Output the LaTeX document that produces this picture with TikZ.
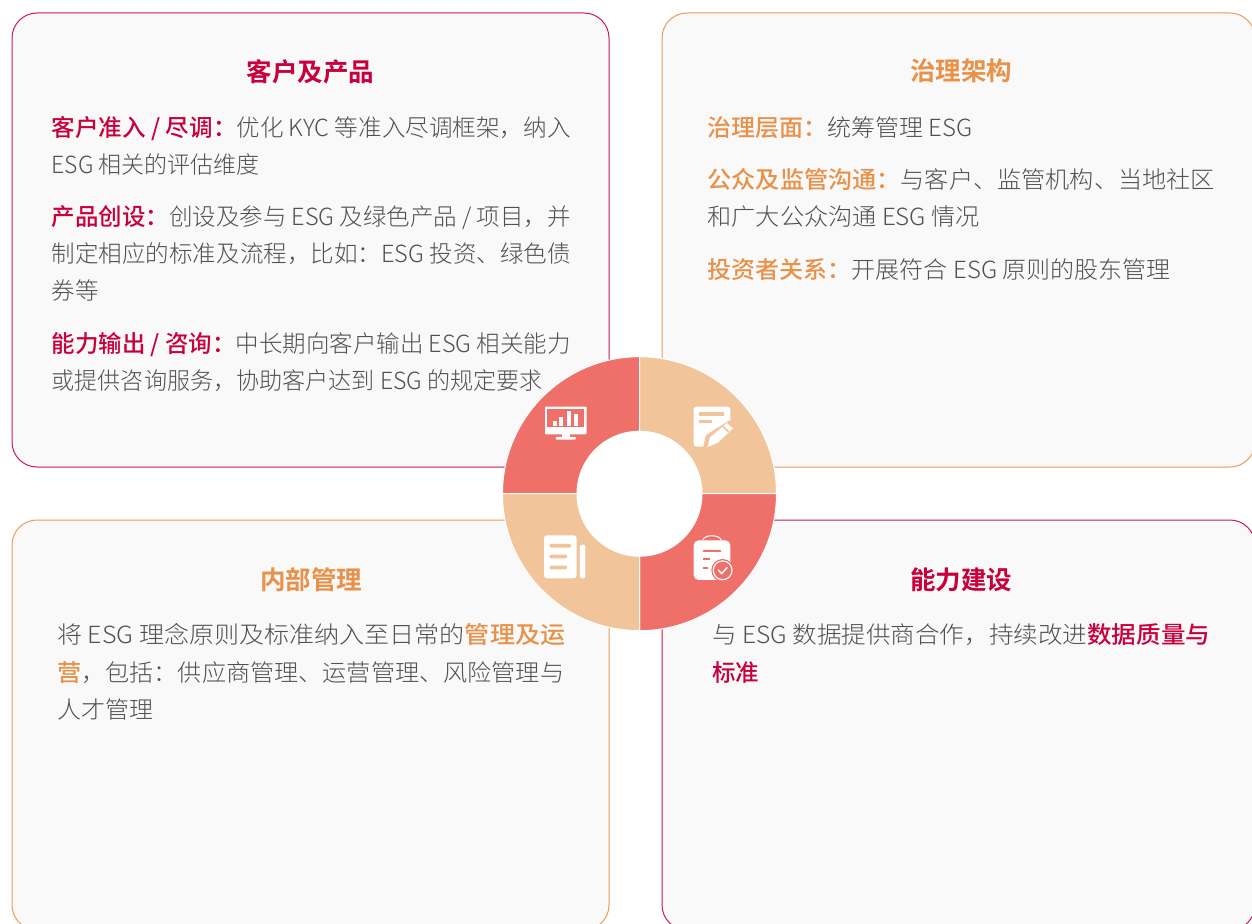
\documentclass[tikz,border=0pt]{standalone}
\usepackage{fontspec}
\usepackage{graphicx}
\setmainfont[BoldFont={Noto Sans CJK SC Medium}]{Noto Sans CJK SC Light}
\newfontfamily\titlefont{Noto Sans CJK SC Bold}
\definecolor{hred}{HTML}{C8003C}
\definecolor{horange}{HTML}{E79149}
\definecolor{bodygray}{HTML}{505050}
\definecolor{cardfill}{HTML}{F9F9F9}
\definecolor{segred}{HTML}{EE7068}
\definecolor{segtan}{HTML}{F1C499}
\newcommand{\hr}[1]{\textcolor{hred}{\bfseries #1}}
\newcommand{\ho}[1]{\textcolor{horange}{\bfseries #1}}
\newcommand{\fitw}[2]{\resizebox{#1pt}{\height}{#2}}
\tikzset{
  cardred/.style={draw=hred!90!white,fill=cardfill,line width=1pt,rounded corners=25pt},
  cardorange/.style={draw=horange!90!white,fill=cardfill,line width=1pt,rounded corners=25pt},
  titlered/.style={anchor=base,inner sep=0pt,text=hred,font=\fontsize{25.5}{26}\selectfont\titlefont},
  titleorange/.style={anchor=base,inner sep=0pt,text=horange,font=\fontsize{25.5}{26}\selectfont\titlefont},
  bodyline/.style={anchor=base west,inner sep=0pt,text=bodygray,font=\fontsize{23.6}{24}\selectfont},
  seg/.style={draw=white,line width=1pt},
  icon/.style={fill=white,draw=none},
}
\begin{document}
\begin{tikzpicture}[x=1pt,y=-1pt]
\useasboundingbox (0,0) rectangle (1252,923);
\fill[white] (0,0) rectangle (1252,923);
\begin{scope}
\clip (0,0) rectangle (1252,923);
\path[cardred] (12,13) rectangle (609,467);
\path[cardorange] (662,13) rectangle (1255,467);
\path[cardorange] (12,520) rectangle (609,930);
\path[cardred] (662,520) rectangle (1255,930);
\end{scope}

\node[titlered] (t1) at (310.5,81.5) {客户及产品};
\node[bodyline] (a1) at (51.5,136.5) {\fitw{519}{\hr{客户准入 / 尽调：}优化 KYC 等准入尽调框架，纳入}};
\node[bodyline] (a2) at (51.5,173.5) {\fitw{208}{ESG 相关的评估维度}};
\node[bodyline] (a3) at (51.5,225.5) {\fitw{519}{\hr{产品创设：}创设及参与 ESG 及绿色产品 / 项目，并}};
\node[bodyline] (a4) at (51.5,262.5) {\fitw{519}{制定相应的标准及流程，比如：ESG 投资、绿色债}};
\node[bodyline] (a5) at (51.5,299.5) {\fitw{47}{券等}};
\node[bodyline] (a6) at (51.5,352) {\fitw{519}{\hr{能力输出 / 咨询：}中长期向客户输出 ESG 相关能力}};
\node[bodyline] (a7) at (51.5,389.5) {\fitw{491}{或提供咨询服务，协助客户达到 ESG 的规定要求}};

\node[titleorange] (t2) at (961,81) {治理架构};
\node[bodyline] (b1) at (707.5,136.5) {\fitw{265}{\ho{治理层面：}统筹管理 ESG}};
\node[bodyline] (b2) at (707.5,188.5) {\fitw{507}{\ho{公众及监管沟通：}与客户、监管机构、当地社区}};
\node[bodyline] (b3) at (707.5,225.5) {\fitw{272}{和广大公众沟通 ESG 情况}};
\node[bodyline] (b4) at (707.5,278) {\fitw{463}{\ho{投资者关系：}开展符合 ESG 原则的股东管理}};

\node[titleorange] (t3) at (311,589) {内部管理};
\node[bodyline] (c1) at (57,643.5) {\fitw{508}{将 ESG 理念原则及标准纳入至日常的\ho{管理及运}}};
\node[bodyline] (c2) at (57,681.5) {\fitw{507}{\ho{营}，包括：供应商管理、运营管理、风险管理与}};
\node[bodyline] (c3) at (57,718.5) {\fitw{96}{人才管理}};

\node[titlered] (t4) at (961,589) {能力建设};
\node[bodyline] (d1) at (712,643.5) {\fitw{498}{与 ESG 数据提供商合作，持续改进\hr{数据质量与}}};
\node[bodyline] (d2) at (712,681.5) {\fitw{47}{\hr{标准}}};

\coordinate (o) at (639.5,493.7);
\fill[segred,seg] (o) ++(-137,0) arc[start angle=180,end angle=270,radius=137] -- (o) -- cycle;
\fill[segtan,seg] (o) ++(0,-137) arc[start angle=270,end angle=360,radius=137] -- (o) -- cycle;
\fill[segred,seg] (o) ++(137,0) arc[start angle=0,end angle=90,radius=137] -- (o) -- cycle;
\fill[segtan,seg] (o) ++(0,137) arc[start angle=90,end angle=180,radius=137] -- (o) -- cycle;
\fill[white] (o) circle[radius=63];

\begin{scope}[shift={(490,345)},x=0.3333pt,y=-0.3333pt]
% monitor
\fill[icon,rounded corners=1pt] (165,185) rectangle (290,268);
\fill[segred] (172,193) rectangle (283,245);
\fill[icon] (190,229) rectangle (201,243);
\fill[icon] (208,215) rectangle (219,243);
\fill[icon] (232,198) rectangle (243,243);
\fill[icon] (253,206) rectangle (265,243);
\fill[icon] (215,268) rectangle (240,278);
\fill[icon,rounded corners=1pt] (197,276) rectangle (258,284);
% document with pencil
\fill[icon,rounded corners=3pt] (611,185) -- (721,185) -- (721,240) -- (665,292) -- (650,305) -- (611,305) -- cycle;
\fill[segtan] (627,201) rectangle (702,212);
\fill[segtan] (627,225) rectangle (665,235);
\fill[segtan] (721,225) -- (735,240) -- (690,292) -- (652,310) -- (640,305) -- (648,270) -- cycle;
\fill[icon] (711,234) -- (729,250) -- (684,293) -- (653,306) -- (660,277) -- cycle;
\fill[segtan] (702,243) -- (718,259) -- (714,262) -- (698,246) -- cycle;
% document with lines
\fill[icon,rounded corners=3pt] (162,571) rectangle (260,700);
\fill[icon,rounded corners=2pt] (270,599) rectangle (286,700);
\fill[segtan,rounded corners=2pt] (178,597) rectangle (244,608);
\fill[segtan,rounded corners=2pt] (178,629) rectangle (232,640);
\fill[segtan,rounded corners=2pt] (178,662) rectangle (232,673);
% clipboard with check
\fill[icon,rounded corners=5pt] (611,586) rectangle (721,705);
\draw[white,line width=1pt] (638,585) .. controls (645,568) and (686,568) .. (694,585);
\fill[segred,rounded corners=1pt] (638,615) rectangle (694,621);
\fill[segred] (638,640) rectangle (660,646);
\fill[segred] (638,666) rectangle (655,672);
\fill[segred] (698,676) circle[radius=34];
\fill[icon] (698,676) circle[radius=30];
\fill[segred] (698,676) circle[radius=26];
\draw[white,line width=1.5pt,line cap=round,line join=round] (685,675) -- (695,686) -- (711,668);
\end{scope}
\end{tikzpicture}
\end{document}
